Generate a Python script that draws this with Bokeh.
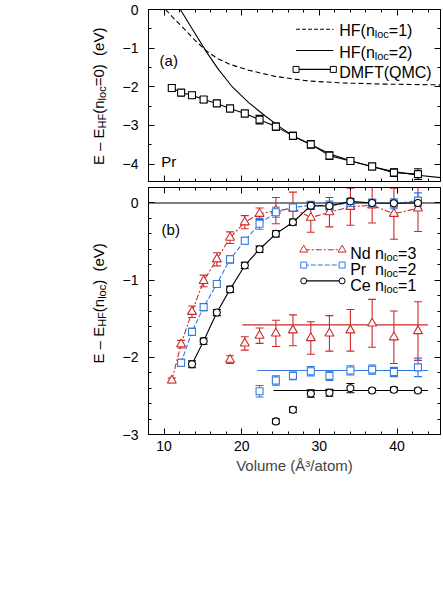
from math import pi
from bokeh.plotting import figure
from bokeh.models import (Range1d, SingleIntervalTicker, LinearAxis, CustomJSTickFormatter,
                          Label, Whisker, TeeHead, ColumnDataSource, Span)
from bokeh.layouts import column, row
from bokeh.embed import file_html
from bokeh.resources import INLINE

# ---------------- data ----------------
volume = [11.0, 12.2, 13.6, 15.1, 16.8, 18.5, 20.4, 22.3, 24.4, 26.6, 28.9, 31.3, 34.0, 36.8, 39.6, 42.7]

# panel (a): Pr
dmft_a = [-2.03, -2.15, -2.22, -2.33, -2.43, -2.56, -2.69, -2.85, -3.03, -3.27, -3.49, -3.78, -3.92, -4.06, -4.22, -4.26]
dmft_a_err = [0.09, 0.08, 0.08, 0.08, 0.08, 0.09, 0.09, 0.11, 0.09, 0.09, 0.10, 0.10, 0.09, 0.09, 0.10, 0.14]

hf1_v = [10.2, 11.2, 12.3, 13.2, 14.0, 15.5, 17.0, 18.5, 20.9, 24.3, 28.6, 33.0, 38.0, 42.0, 45.6]
hf1_e = [0.0, -0.22, -0.44, -0.63, -0.80, -1.08, -1.28, -1.42, -1.57, -1.73, -1.85, -1.90, -1.93, -1.94, -1.95]

hf2_v = [12.1, 13.6, 15.5, 17.0, 18.7, 20.9, 23.0, 25.0, 26.6, 28.9, 31.3, 34.1, 36.8, 39.6, 42.7, 45.6]
hf2_e = [0.0, -0.49, -1.11, -1.55, -1.98, -2.41, -2.75, -3.05, -3.27, -3.49, -3.73, -3.92, -4.07, -4.19, -4.29, -4.35]

# panel (b): upper curves
nd_v = volume
nd_e = [-2.30, -1.83, -1.41, -1.01, -0.73, -0.45, -0.25, -0.14, -0.10, -0.07, -0.19, -0.12, -0.05, -0.03, -0.14, -0.07]
nd_err = [0.03, 0.05, 0.075, 0.075, 0.085, 0.075, 0.085, 0.075, 0.17, 0.21, 0.19, 0.19, 0.24, 0.23, 0.33, 0.30]

pr_v = volume[1:]
pr_e = [-2.07, -1.67, -1.35, -1.05, -0.73, -0.49, -0.27, -0.12, -0.06, -0.03, -0.035, 0.0, 0.0, -0.01, 0.03]
pr_err = [0.045, 0.045, 0.045, 0.045, 0.05, 0.045, 0.07, 0.065, 0.05, 0.05, 0.06, 0.05, 0.05, 0.065, 0.10]

ce_v = volume[2:]
ce_e = [-2.09, -1.79, -1.42, -1.12, -0.81, -0.60, -0.40, -0.25, -0.035, -0.04, 0.02, 0.0, -0.005, 0.0]
ce_err = [0.045, 0.04, 0.04, 0.04, 0.04, 0.04, 0.04, 0.04, 0.045, 0.04, 0.04, 0.04, 0.04, 0.04]

# panel (b): lower points and their mean levels
nd_low_v = volume[5:]
nd_low_e = [-2.03, -1.82, -1.72, -1.69, -1.65, -1.75, -1.69, -1.65, -1.56, -1.74, -1.66]
nd_low_err = [0.05, 0.087, 0.10, 0.17, 0.20, 0.21, 0.23, 0.27, 0.31, 0.34, 0.38]
nd_level = -1.58
nd_level_v = [20.1, 44.0]

pr_low_v = volume[7:]
pr_low_e = [-2.44, -2.30, -2.24, -2.18, -2.24, -2.17, -2.16, -2.19, -2.13]
pr_low_err = [0.075, 0.06, 0.05, 0.06, 0.06, 0.06, 0.06, 0.06, 0.12]
pr_level = -2.17
pr_level_v = [22.0, 44.0]

ce_low_v = volume[8:]
ce_low_e = [-2.83, -2.68, -2.47, -2.46, -2.40, -2.43, -2.42, -2.43]
ce_low_err = [0.03, 0.035, 0.048, 0.045, 0.06, 0.03, 0.03, 0.03]
ce_level = -2.43
ce_level_v = [24.1, 44.0]

# ---------------- styling / layout constants ----------------
FONT = "Liberation Sans"
RED = "#cc2a2a"
BLUE = "#3379e6"
BLACK = "#000000"
LW = 1.1

TITLE_W = 110          # width of the strip that carries the y titles
FRAME_W = 292
TOP_H, A_H, GAP1, GAP2, B_H, BOT_H = 9, 172, 3, 3, 247, 48

legend_a_x = [27.0, 31.8]
legend_a_y = [-0.51, -1.06, -1.55]
legend_a_text_x = 32.56
legend_a_text_y = [-0.552, -1.12, -1.63]

legend_b_x = [27.99, 32.93]
legend_b_y = [-0.607, -0.805, -1.01]
legend_b_text_x = 33.97
legend_b_text_y = [-0.655, -0.857, -1.065]

ARIAL = {' ': 278, '(': 333, ')': 333, '=': 584, '\u2013': 556, 'E': 667, 'H': 722, 'F': 611,
         'n': 556, 'l': 222, 'o': 556, 'c': 500, 'e': 556, 'V': 667, 'N': 722, 'd': 556,
         'P': 667, 'r': 333, 'C': 722, 'D': 722, 'M': 833, 'T': 611, 'Q': 778}


def adv(s, size):
    return sum(ARIAL.get(ch, 556) for ch in s) * size / 1000.0


def rich_h(p, x, y, pieces, color=BLACK):
    off = 0.0
    for txt, size, dy in pieces:
        lead = len(txt) - len(txt.lstrip(' '))
        s = txt.strip(' ')
        if s:
            p.add_layout(Label(x=x, y=y, x_offset=off + adv(' ' * lead, size), y_offset=dy,
                               text=s, text_font=FONT, text_font_size=f"{size}px",
                               text_baseline="alphabetic", text_align="left", text_color=color))
        off += adv(txt, size)


def rich_v(p, x, y, pieces):
    total = sum(adv(t, s) for t, s, _ in pieces)
    off = -total / 2.0
    for txt, size, down in pieces:
        lead = len(txt) - len(txt.lstrip(' '))
        s = txt.strip(' ')
        if s:
            p.add_layout(Label(x=x, y=y, x_offset=down, y_offset=off + adv(' ' * lead, size),
                               angle=pi / 2, text=s, text_font=FONT, text_font_size=f"{size}px",
                               text_baseline="alphabetic", text_align="left", text_color=BLACK))
        off += adv(txt, size)


def style_axis(ax, labels):
    ax.major_tick_in = 6
    ax.major_tick_out = 0
    ax.minor_tick_in = 3
    ax.minor_tick_out = 0
    ax.axis_line_color = BLACK
    ax.major_tick_line_color = BLACK
    ax.minor_tick_line_color = BLACK
    ax.major_label_text_font = FONT
    ax.major_label_text_color = BLACK
    if labels:
        ax.major_label_text_font_size = "14px"
    else:
        ax.major_label_text_font_size = "0px"
        ax.major_label_standoff = 0
        ax.formatter = CustomJSTickFormatter(code="return ''")


def add_axes(p, y_minor, x_labels):
    for side in ("below", "above"):
        ax = LinearAxis(ticker=SingleIntervalTicker(interval=10, num_minor_ticks=5))
        style_axis(ax, side == "below" and x_labels)
        if side == "below" and x_labels:
            ax.major_label_standoff = 6
            ax.axis_label = "Volume (\u00c5\u00b3/atom)"
            ax.axis_label_text_font = FONT
            ax.axis_label_text_font_size = "15px"
            ax.axis_label_text_font_style = "normal"
            ax.axis_label_standoff = 3
        p.add_layout(ax, side)
    for side in ("left", "right"):
        ax = LinearAxis(ticker=SingleIntervalTicker(interval=1, num_minor_ticks=y_minor))
        style_axis(ax, side == "left")
        if side == "left":
            ax.major_label_standoff = 10
            ax.formatter = CustomJSTickFormatter(
                code="return tick < -0.01 ? '\\u2212' + Math.abs(tick).toFixed(0) : Math.abs(tick).toFixed(0)")
        p.add_layout(ax, side)


def errbars(p, xs, ys, errs, color):
    src = ColumnDataSource(dict(x=xs, upper=[y + e for y, e in zip(ys, errs)],
                                lower=[y - e for y, e in zip(ys, errs)]))
    p.add_layout(Whisker(source=src, base="x", upper="upper", lower="lower",
                         line_color=color, line_width=LW,
                         upper_head=TeeHead(size=8, line_color=color, line_width=LW),
                         lower_head=TeeHead(size=8, line_color=color, line_width=LW)))


def base_fig(height, y_range, top, bottom):
    p = figure(width=148 - TITLE_W + FRAME_W + 3, height=height, x_range=x_range, y_range=y_range,
               output_backend="svg", toolbar_location=None, x_axis_type=None, y_axis_type=None,
               min_border_left=148 - TITLE_W, min_border_right=3, min_border_top=top,
               min_border_bottom=bottom)
    p.outline_line_color = BLACK
    p.background_fill_color = "white"
    p.border_fill_color = "white"
    return p


x_range = Range1d(8.0, 45.6)

# ---------------- panel (a) ----------------
pa = base_fig(TOP_H + A_H + GAP1, Range1d(-4.45, 0.0), TOP_H, GAP1)
add_axes(pa, 2, False)

pa.line(hf1_v, hf1_e, line_color=BLACK, line_width=LW, line_dash="5 3")
pa.line(hf2_v, hf2_e, line_color=BLACK, line_width=LW)
errbars(pa, volume, dmft_a, dmft_a_err, BLACK)
pa.line(volume, dmft_a, line_color=BLACK, line_width=LW)
pa.scatter(volume, dmft_a, marker="square", size=7, fill_color="white", line_color=BLACK, line_width=LW)

# legend (a)
pa.line(legend_a_x, [legend_a_y[0]] * 2, line_color=BLACK, line_width=LW, line_dash="4 2")
pa.line(legend_a_x, [legend_a_y[1]] * 2, line_color=BLACK, line_width=LW)
pa.line(legend_a_x, [legend_a_y[2]] * 2, line_color=BLACK, line_width=LW)
pa.scatter(legend_a_x, [legend_a_y[2]] * 2, marker="square", size=6, fill_color="white", line_color=BLACK)
rich_h(pa, legend_a_text_x, legend_a_text_y[0], [("HF(n", 16, 0), ("loc", 11, -3.5), ("=1)", 16, 0)])
rich_h(pa, legend_a_text_x, legend_a_text_y[1], [("HF(n", 16, 0), ("loc", 11, -3.5), ("=2)", 16, 0)])
rich_h(pa, legend_a_text_x, legend_a_text_y[2], [("DMFT(QMC)", 16, 0)])

rich_h(pa, 9.43, -1.32, [("(a)", 15, 0)])
rich_h(pa, 9.64, -3.92, [("Pr", 15, 0)])

# ---------------- panel (b) ----------------
pb = base_fig(GAP2 + B_H + BOT_H, Range1d(-3.0, 0.2), GAP2, BOT_H)
add_axes(pb, 5, True)

pb.add_layout(Span(location=0, dimension="width", line_color=BLACK, line_width=LW, level="underlay"))

pb.segment(x0=[nd_level_v[0]], x1=[nd_level_v[1]], y0=[nd_level], y1=[nd_level], line_color=RED, line_width=LW)
pb.segment(x0=[pr_level_v[0]], x1=[pr_level_v[1]], y0=[pr_level], y1=[pr_level], line_color=BLUE, line_width=LW)
pb.segment(x0=[ce_level_v[0]], x1=[ce_level_v[1]], y0=[ce_level], y1=[ce_level], line_color=BLACK, line_width=LW)

errbars(pb, nd_v, nd_e, nd_err, RED)
errbars(pb, pr_v, pr_e, pr_err, BLUE)
errbars(pb, ce_v, ce_e, ce_err, BLACK)
errbars(pb, nd_low_v, nd_low_e, nd_low_err, RED)
errbars(pb, pr_low_v, pr_low_e, pr_low_err, BLUE)
errbars(pb, ce_low_v, ce_low_e, ce_low_err, BLACK)

pb.line(nd_v, nd_e, line_color=RED, line_width=LW, line_dash="6 2 2 2")
pb.line(pr_v, pr_e, line_color=BLUE, line_width=LW, line_dash="5 2")
pb.line(ce_v, ce_e, line_color=BLACK, line_width=LW)

pb.scatter(nd_v, nd_e, marker="triangle", size=9, fill_color="white", line_color=RED, line_width=LW)
pb.scatter(pr_v, pr_e, marker="square", size=7, fill_color="white", line_color=BLUE, line_width=LW)
pb.scatter(ce_v, ce_e, marker="circle", size=7, fill_color="white", line_color=BLACK, line_width=LW)
pb.scatter(nd_low_v, nd_low_e, marker="triangle", size=9, fill_color="white", line_color=RED, line_width=LW)
pb.scatter(pr_low_v, pr_low_e, marker="square", size=7, fill_color="white", line_color=BLUE, line_width=LW)
pb.scatter(ce_low_v, ce_low_e, marker="circle", size=7, fill_color="white", line_color=BLACK, line_width=LW)

# legend (b)
pb.line(legend_b_x, [legend_b_y[0]] * 2, line_color=RED, line_width=LW, line_dash="6 2 2 2")
pb.scatter(legend_b_x, [legend_b_y[0]] * 2, marker="triangle", size=8, fill_color="white", line_color=RED)
pb.line(legend_b_x, [legend_b_y[1]] * 2, line_color=BLUE, line_width=LW, line_dash="5 2")
pb.scatter(legend_b_x, [legend_b_y[1]] * 2, marker="square", size=6, fill_color="white", line_color=BLUE)
pb.line(legend_b_x, [legend_b_y[2]] * 2, line_color=BLACK, line_width=LW)
pb.scatter(legend_b_x, [legend_b_y[2]] * 2, marker="circle", size=6, fill_color="white", line_color=BLACK)
rich_h(pb, legend_b_text_x, legend_b_text_y[0], [("Nd", 16, 0), (" n", 16, 0), ("loc", 11, -3.5), ("=3", 16, 0)])
rich_h(pb, legend_b_text_x, legend_b_text_y[1], [("Pr", 16, 0), ("  n", 16, 0), ("loc", 11, -3.5), ("=2", 16, 0)])
rich_h(pb, legend_b_text_x, legend_b_text_y[2], [("Ce", 16, 0), (" n", 16, 0), ("loc", 11, -3.5), ("=1", 16, 0)])

rich_h(pb, 9.69, -0.34, [("(b)", 15, 0)])

# ---------------- strip with the two y-axis titles ----------------
total_h = TOP_H + A_H + GAP1 + GAP2 + B_H + BOT_H
tf = figure(width=TITLE_W, height=total_h, x_range=Range1d(0, TITLE_W), y_range=Range1d(total_h, 0),
            output_backend="svg", toolbar_location=None, x_axis_type=None, y_axis_type=None,
            min_border=0, min_border_left=0, min_border_right=0, min_border_top=0, min_border_bottom=0)
tf.outline_line_color = None
tf.background_fill_color = "white"
tf.border_fill_color = "white"
tf.scatter([0], [0], size=0, alpha=0)

a_mid = TOP_H + 0.505 * A_H
b_mid = TOP_H + A_H + GAP1 + GAP2 + 0.469 * B_H
rich_v(tf, 97.7, a_mid, [("E \u2013 E", 15, 0), ("HF", 11, 3.5), ("(n", 15, 0), ("loc", 11, 3.5),
                         ("=0)", 15, 0), ("  (eV)", 15, 0)])
rich_v(tf, 97.7, b_mid, [("E \u2013 E", 15, 0), ("HF", 11, 3.5), ("(n", 15, 0), ("loc", 11, 3.5),
                         (")", 15, 0), ("  (eV)", 15, 0)])

layout = row(tf, column(pa, pb))
open("out.html", "w").write(file_html(layout, INLINE))
